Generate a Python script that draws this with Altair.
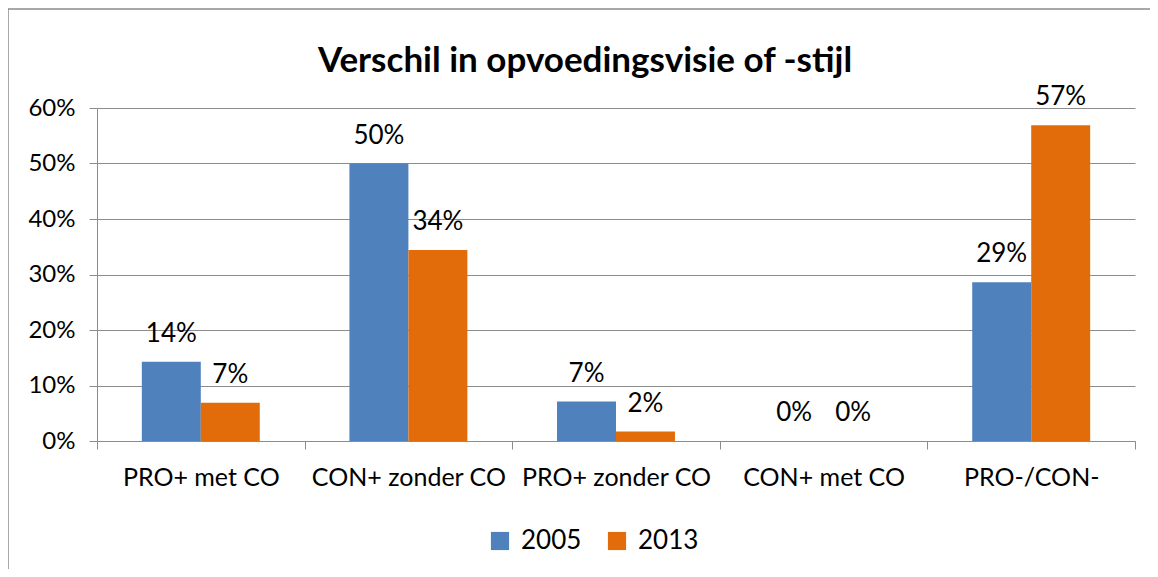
import altair as alt
import pandas as pd

categories = ["PRO+ met CO", "CON+ zonder CO", "PRO+ zonder CO", "CON+ met CO", "PRO-/CON-"]
years = ["2005", "2013"]
values_2005 = [0.143, 0.50, 0.071, 0.0, 0.286]
values_2013 = [0.069, 0.344, 0.017, 0.0, 0.569]
colors = ["#4F81BD", "#E36C0A"]

rows = []
for c, a, b in zip(categories, values_2005, values_2013):
    rows.append({"cat": c, "year": "2005", "value": a})
    rows.append({"cat": c, "year": "2013", "value": b})
df = pd.DataFrame(rows)

W, H = 1038, 333
FONT = "Lato"
GRAY = "#8C8C8C"

x = alt.X("cat:N", sort=categories, title=None,
          scale=alt.Scale(paddingInner=0, paddingOuter=0),
          axis=alt.Axis(labelAngle=0, tickBand="extent", domainColor=GRAY, tickColor=GRAY,
                        tickSize=8, labelFontSize=25, labelFont=FONT, labelColor="black",
                        labelPadding=16, labelLimit=400, labelOverlap=False, grid=False))
xoff = alt.XOffset("year:N", scale=alt.Scale(paddingOuter=0.76, paddingInner=0))
y = alt.Y("value:Q", title=None,
          scale=alt.Scale(domain=[0, 0.6], nice=False),
          axis=alt.Axis(format=".0%", values=[0, 0.1, 0.2, 0.3, 0.4, 0.5, 0.6],
                        domainColor=GRAY, tickColor=GRAY, gridColor=GRAY, tickSize=8,
                        labelFontSize=24, labelFont=FONT, labelColor="black", labelPadding=14))
color = alt.Color("year:N", scale=alt.Scale(domain=years, range=colors),
                  legend=alt.Legend(title=None, orient="none", legendX=390, legendY=420,
                                    direction="horizontal", symbolType="square",
                                    symbolSize=330, symbolStrokeWidth=0,
                                    labelFontSize=26, labelFont=FONT, labelColor="black",
                                    columnPadding=22, labelOffset=8))

bars = alt.Chart(df).mark_bar().encode(x=x, xOffset=xoff, y=y, color=color)
labels = alt.Chart(df).mark_text(baseline="alphabetic", dy=-20, fontSize=26, font=FONT,
                                 color="black").encode(
    x=x, xOffset=xoff, y=y, text=alt.Text("value:Q", format=".0%"))

border = alt.Chart(alt.Data(values=[{}])).mark_rect(fillOpacity=0, stroke="#8C8C8C",
                                                    strokeWidth=1.5).encode(
    x=alt.value(-89), x2=alt.value(W + 60), y=alt.value(-99), y2=alt.value(H + 200))

chart = alt.layer(border, bars, labels).properties(
    width=W, height=H,
    title=alt.Title("Verschil in opvoedingsvisie of -stijl", fontSize=35, font=FONT,
                    fontWeight="bold", color="black", anchor="middle", dx=-31, offset=-71),
    autosize=alt.AutoSizeParams(type="none"),
    padding={"left": 89, "top": 100, "right": 15, "bottom": 128},
).configure_view(stroke=None)

chart.save("out.html", embed_options={"renderer": "svg", "actions": False})
